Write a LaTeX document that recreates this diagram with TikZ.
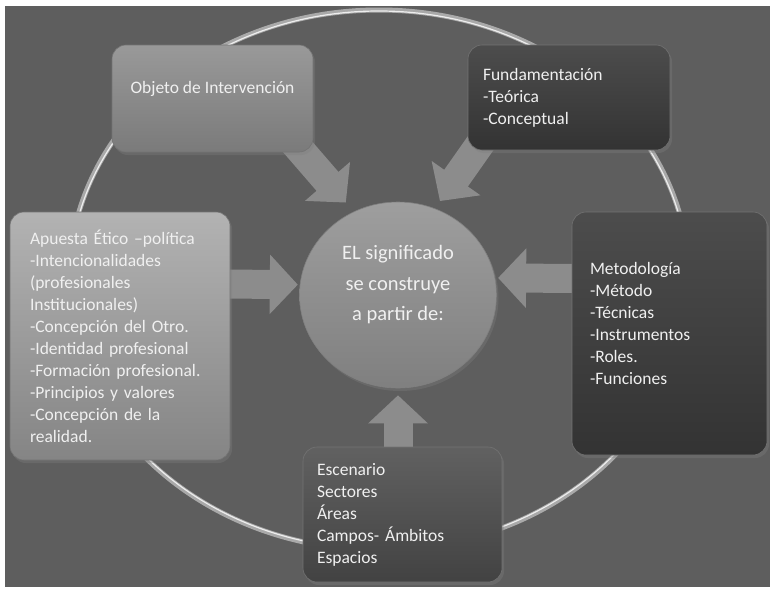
\documentclass[tikz,border=0pt]{standalone}
\usepackage{fontspec}
\setmainfont{Carlito}
\usetikzlibrary{arrows.meta,shapes.geometric,shadows}

\definecolor{bggray}{HTML}{5E5E5E}
\definecolor{ringgray}{HTML}{A9A9A9}
\definecolor{arrowgray}{HTML}{8C8C8C}
\definecolor{txtgray}{HTML}{F0F0F0}

\pgfdeclarelayer{back}
\pgfdeclarelayer{mid}
\pgfsetlayers{back,mid,main}

\begin{document}
\begin{tikzpicture}[x=1pt,y=-1pt,
  panel/.style={rounded corners=14pt,inner sep=0pt,text=txtgray,draw=black!55,line width=0.6pt,
    font=\fontsize{17.5}{22}\selectfont,drop shadow={opacity=0.35,shadow xshift=2pt,shadow yshift=-3pt}},
  blockarrow/.style={line width=29pt,draw=arrowgray,-{Triangle[length=28pt,width=58pt]}}]
\useasboundingbox (0,0) rectangle (770,589);

% background and ring
\begin{pgfonlayer}{back}
\fill[bggray] (5,6) rectangle (770,587);
\draw[ringgray,line width=5pt] (379,280) ellipse [x radius=310,y radius=270];
\draw[white!80!ringgray,line width=1.2pt] (379,280) ellipse [x radius=309,y radius=269];
\end{pgfonlayer}

% boxes
\node[panel,top color=black!40,bottom color=black!52,minimum width=201pt,minimum height=107pt,
  align=center,text depth=23pt] (obj) at (212.5,98.5) {Objeto de Intervención};
\node[panel,top color=black!70,bottom color=black!80,minimum width=202pt,minimum height=105pt,
  text width=172pt,align=left] (fund) at (569,97.5) {Fundamentación\\-Teórica\\-Conceptual};
\node[panel,top color=black!30,bottom color=black!48,minimum width=220pt,minimum height=248pt,
  text width=180pt,align=left] (apu) at (120,336)
  {Apuesta Ético –política\\-Intencionalidades\\(profesionales\\Institucionales)\\-Concepción del Otro.\\-Identidad profesional\\-Formación profesional.\\-Principios y valores\\-Concepción de la\\realidad.};
\node[panel,top color=black!70,bottom color=black!80,minimum width=195pt,minimum height=243pt,
  text width=159pt,align=left,text depth=130pt] (met) at (669.5,333.5)
  {Metodología\\-Método\\-Técnicas\\-Instrumentos\\-Roles.\\-Funciones};
\node[panel,top color=black!62,bottom color=black!74,minimum width=199pt,minimum height=135pt,
  text width=171pt,align=left] (esc) at (402.5,514.5)
  {Escenario\\Sectores\\Áreas\\Campos- Ámbitos\\Espacios};

% centre
\node[ellipse,inner sep=0pt,top color=black!38,bottom color=black!50,draw=black!50,line width=0.6pt,
  minimum width=197pt,minimum height=186pt,text=txtgray,align=center,text depth=24pt,
  font=\fontsize{20.5}{30.5}\selectfont,drop shadow={opacity=0.35,shadow xshift=2pt,shadow yshift=-3pt}]
  (ctr) at (398,295) {EL significado\\se construye\\a partir de:};

% arrows towards the centre
\begin{pgfonlayer}{mid}
\draw[blockarrow,shorten >=12pt] ([xshift=-30pt,yshift=22pt]obj.south east) -- (ctr.118);
\draw[blockarrow,shorten >=9pt] ([xshift=22pt,yshift=20pt]fund.south west) -- (ctr.67);
\draw[blockarrow,shorten >=2pt] ([xshift=-5pt,yshift=52pt]apu.east) -- (ctr.174);
\draw[blockarrow,shorten >=3pt] ([xshift=5pt,yshift=55pt]met.west) -- (ctr.10);
\draw[blockarrow,shorten >=7pt] (ctr.south |- esc.center) -- (ctr.south);
\end{pgfonlayer}
\end{tikzpicture}
\end{document}
